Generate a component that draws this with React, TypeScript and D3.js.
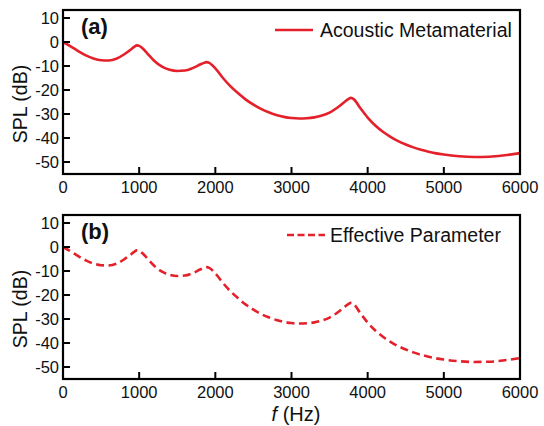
import React from "react";
import * as d3 from "d3";

const freqHz = [0, 100, 200, 300, 400, 500, 600, 700, 800, 900, 940, 970, 1000, 1050, 1100, 1200, 1300, 1400, 1500, 1600, 1700, 1800, 1850, 1885, 1920, 2000, 2100, 2200, 2300, 2400, 2500, 2600, 2700, 2800, 2900, 3000, 3100, 3200, 3300, 3400, 3500, 3600, 3700, 3750, 3780, 3820, 3900, 4000, 4100, 4200, 4300, 4400, 4500, 4600, 4700, 4800, 4900, 5000, 5200, 5400, 5600, 5800, 6000];
const metamaterialSpl = [0, -1.8, -3.8, -5.6, -6.9, -7.6, -7.7, -7.0, -5.2, -2.9, -1.9, -1.4, -1.6, -2.8, -4.5, -7.9, -10.3, -11.6, -12.1, -11.9, -10.9, -9.4, -8.7, -8.4, -8.7, -11.0, -15.0, -18.5, -21.4, -24.0, -26.1, -27.9, -29.3, -30.4, -31.2, -31.7, -31.9, -31.8, -31.4, -30.6, -29.4, -27.4, -24.9, -23.7, -23.3, -23.9, -27.4, -31.5, -34.8, -37.4, -39.5, -41.3, -42.7, -43.9, -44.9, -45.7, -46.4, -46.9, -47.6, -47.9, -47.8, -47.2, -46.3];
const effectiveSpl = [0, -1.8, -3.8, -5.6, -6.9, -7.6, -7.7, -7.0, -5.2, -2.9, -1.9, -1.4, -1.6, -2.8, -4.5, -7.9, -10.3, -11.6, -12.1, -11.9, -10.9, -9.4, -8.7, -8.4, -8.7, -11.0, -15.0, -18.5, -21.4, -24.0, -26.1, -27.9, -29.3, -30.4, -31.2, -31.7, -31.9, -31.8, -31.4, -30.6, -29.4, -27.4, -24.9, -23.7, -23.3, -23.9, -27.4, -31.5, -34.8, -37.4, -39.5, -41.3, -42.7, -43.9, -44.9, -45.7, -46.4, -46.9, -47.6, -47.9, -47.8, -47.2, -46.3];
const xTicks = [0, 1000, 2000, 3000, 4000, 5000, 6000];
const yTicks = [10, 0, -10, -20, -30, -40, -50];
const panelLabels = ["(a)", "(b)"];
const seriesNames = ["Acoustic Metamaterial", "Effective Parameter"];

const RED = "#e4202a";
const FONT = "'Liberation Sans', Arial, sans-serif";

const x = d3.scaleLinear().domain([0, 6000]).range([63, 520]);

function Panel({ top, bottom, values, label, name, dashed, legendX, legendTextX }: any) {
  const y = d3.scaleLinear().domain([-55, 13.33]).range([bottom, top]);
  const line = d3
    .line<number>()
    .x((_, i) => x(freqHz[i]))
    .y((v) => y(v))
    .curve(d3.curveMonotoneX);
  const x0 = x(0);
  const x1 = x(6000);
  const legendY = top + 20;
  return (
    <g>
      <path d={line(values) || ""} fill="none" stroke={RED} strokeWidth={2.6} strokeLinejoin="round" strokeDasharray={dashed ? "8,4.5" : undefined} />
      {yTicks.map((t) => (
        <g key={t}>
          <line x1={x0} x2={x0 + 7} y1={y(t)} y2={y(t)} stroke="#000" strokeWidth={2} />
          <text x={59} y={y(t) + 5.8} textAnchor="end" fontSize={16.5} fontFamily={FONT} fill="#111">
            {t}
          </text>
        </g>
      ))}
      {xTicks.map((t) => (
        <g key={t}>
          <line x1={x(t)} x2={x(t)} y1={bottom} y2={bottom - 7} stroke="#000" strokeWidth={2} />
          <text x={x(t)} y={bottom + 19} textAnchor="middle" fontSize={16.5} fontFamily={FONT} fill="#111">
            {t}
          </text>
        </g>
      ))}
      <rect x={x0} y={top} width={x1 - x0} height={bottom - top} fill="none" stroke="#000" strokeWidth={2.2} />
      <text x={81} y={top + 24} fontSize={22} fontWeight="bold" fontFamily={FONT} fill="#111">
        {label}
      </text>
      <text
        transform={`translate(27,${(top + bottom) / 2 + 12}) rotate(-90)`}
        textAnchor="middle"
        fontSize={19.5}
        fontFamily={FONT}
        fill="#111"
      >
        SPL (dB)
      </text>
      <line x1={legendX} x2={legendX + 38} y1={legendY} y2={legendY} stroke={RED} strokeWidth={2.6} strokeDasharray={dashed ? "7,3.5" : undefined} />
      <text x={legendTextX} y={legendY + 7} fontSize={19.5} fontFamily={FONT} fill="#111">
        {name}
      </text>
    </g>
  );
}

export default function App() {
  return (
    <svg width={544} height={426} style={{ position: "absolute", left: 0, top: 0, background: "#fff" }}>
      <rect width={544} height={426} fill="#fff" />
      <Panel top={10} bottom={174} values={metamaterialSpl} label={panelLabels[0]} name={seriesNames[0]} dashed={false} legendX={275} legendTextX={320} />
      <Panel top={215} bottom={379} values={effectiveSpl} label={panelLabels[1]} name={seriesNames[1]} dashed={true} legendX={287} legendTextX={330} />
      <text x={296} y={421} textAnchor="middle" fontSize={20} fontFamily={FONT} fill="#111">
        <tspan fontStyle="italic">f</tspan>
        <tspan> (Hz)</tspan>
      </text>
    </svg>
  );
}
